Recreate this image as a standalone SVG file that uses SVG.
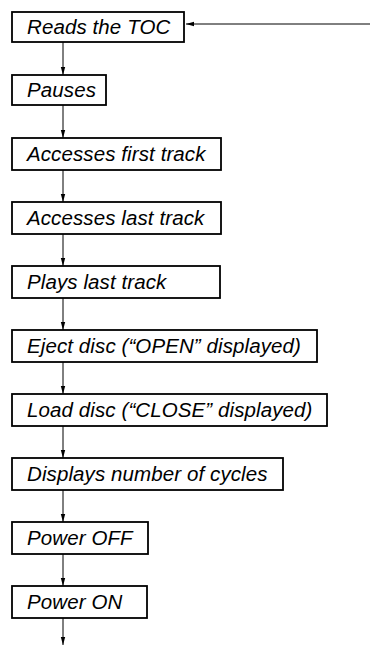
<svg xmlns="http://www.w3.org/2000/svg" width="370" height="646" viewBox="0 0 370 646">
<style>
.box{fill:#fff;stroke:#000;stroke-width:1.8}
.lbl{font-family:"Liberation Sans",Arial,sans-serif;font-style:italic;font-size:20.5px;letter-spacing:0.1px;fill:#000}
.con{stroke:#000;stroke-width:1;fill:none}
</style>
<defs>
<marker id="ah" viewBox="0 0 8 6" refX="8" refY="3" markerWidth="8" markerHeight="6" markerUnits="userSpaceOnUse" orient="auto">
<path d="M0,0.8 L8,3 L0,5.2 Z" fill="#000"/>
</marker>
</defs>
<rect width="370" height="646" fill="#fff"/>
<g id="connectors">
<line class="con" x1="370" y1="24" x2="186" y2="24" marker-end="url(#ah)"/>
<line class="con" x1="63" y1="42" x2="63" y2="75" marker-end="url(#ah)"/>
<line class="con" x1="63" y1="105" x2="63" y2="138" marker-end="url(#ah)"/>
<line class="con" x1="63" y1="170" x2="63" y2="202" marker-end="url(#ah)"/>
<line class="con" x1="63" y1="234" x2="63" y2="266" marker-end="url(#ah)"/>
<line class="con" x1="63" y1="298" x2="63" y2="330" marker-end="url(#ah)"/>
<line class="con" x1="63" y1="362" x2="63" y2="394" marker-end="url(#ah)"/>
<line class="con" x1="63" y1="426" x2="63" y2="458" marker-end="url(#ah)"/>
<line class="con" x1="63" y1="490" x2="63" y2="522" marker-end="url(#ah)"/>
<line class="con" x1="63" y1="554" x2="63" y2="586" marker-end="url(#ah)"/>
<line class="con" x1="63" y1="618" x2="63" y2="645" marker-end="url(#ah)"/>
</g>
<g id="n1"><rect class="box" x="12" y="12" width="172" height="30"/><text class="lbl" x="27" y="34">Reads the TOC</text></g>
<g id="n2"><rect class="box" x="12" y="75" width="94" height="30"/><text class="lbl" x="27" y="97">Pauses</text></g>
<g id="n3"><rect class="box" x="12" y="138" width="209" height="32"/><text class="lbl" x="27" y="161">Accesses first track</text></g>
<g id="n4"><rect class="box" x="12" y="202" width="209" height="32"/><text class="lbl" x="27" y="225">Accesses last track</text></g>
<g id="n5"><rect class="box" x="12" y="266" width="208" height="32"/><text class="lbl" x="27" y="289">Plays last track</text></g>
<g id="n6"><rect class="box" x="12" y="330" width="305" height="32"/><text class="lbl" x="27" y="353">Eject disc (“OPEN” displayed)</text></g>
<g id="n7"><rect class="box" x="12" y="394" width="315" height="32"/><text class="lbl" x="27" y="417">Load disc (“CLOSE” displayed)</text></g>
<g id="n8"><rect class="box" x="12" y="458" width="271" height="32"/><text class="lbl" x="27" y="481">Displays number of cycles</text></g>
<g id="n9"><rect class="box" x="12" y="522" width="136" height="32"/><text class="lbl" x="27" y="545">Power OFF</text></g>
<g id="n10"><rect class="box" x="12" y="586" width="135" height="32"/><text class="lbl" x="27" y="609">Power ON</text></g>
</svg>
